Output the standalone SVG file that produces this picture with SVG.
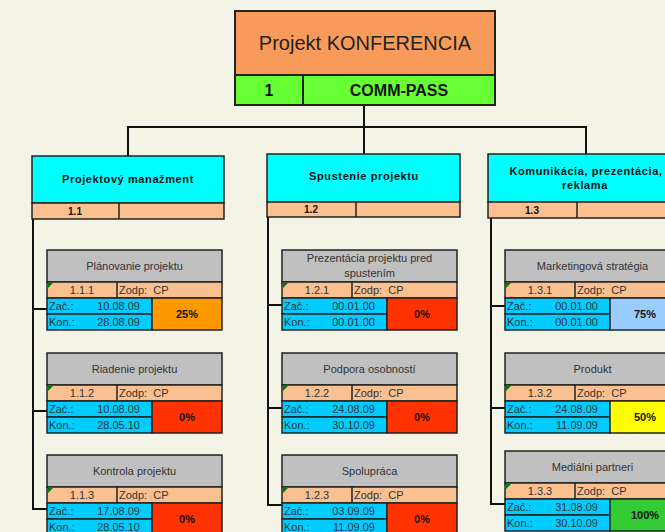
<svg xmlns="http://www.w3.org/2000/svg" width="665" height="532" viewBox="0 0 665 532">
<style>
.bg{fill:#F4F4E6}
.bx{stroke:#222;stroke-width:1.5}
.or{fill:#F89B5A}.gr{fill:#66FF33}.cy{fill:#00FFFF}.pe{fill:#FAC08F}.gy{fill:#C0C0C0}.bl{fill:#00CCFF}
.red{fill:#FF3300}.org{fill:#FF9900}.lbl{fill:#99CCFF}.yel{fill:#FFFF00}.grn{fill:#33CC33}
.cn{fill:none;stroke:#111;stroke-width:2}
text{font-family:"Liberation Sans",Arial,sans-serif;fill:#333}
.t{font-size:11px}
.c{text-anchor:middle}
.e{text-anchor:end}
.b{font-weight:bold;fill:#111}
.l1{font-size:11px;font-weight:bold;fill:#111;letter-spacing:0.6px;text-anchor:middle}
.tri{fill:#008000}
</style>
<rect class="bg" x="0" y="0" width="665" height="532"/>
<g id="connectors">
<path class="cn" d="M364,105V127M127,127H587M128,127V156M364,127V154M586,127V154"/>
<path class="cn" d="M33,219V509H47M33,309H47M33,411H47"/>
<path class="cn" d="M268,217V505H282M268,305H282M268,408H282"/>
<path class="cn" d="M491,218V504H505M491,306H505M491,408H505"/>
</g>
<g id="root">
<rect class="or bx" x="235" y="11" width="260" height="64" style="stroke-width:2"/>
<rect class="gr bx" x="235" y="75" width="260" height="30" style="stroke-width:2"/>
<line class="bx" x1="303" y1="75" x2="303" y2="105" style="stroke-width:2"/>
<text x="365" y="50" class="c" style="font-size:20px;fill:#222">Projekt KONFERENCIA</text>
<text x="269" y="96" class="c b" style="font-size:16px">1</text>
<text x="399" y="96" class="c b" style="font-size:16px">COMM-PASS</text>
</g>
<g id="n1_1">
<rect class="cy bx" x="32" y="156" width="192" height="47"/>
<rect class="pe bx" x="32" y="203" width="192" height="16"/>
<line class="bx" x1="119" y1="203" x2="119" y2="219"/>
<text x="128" y="183" class="l1">Projektový manažment</text>
<text x="75" y="215" class="c b" style="font-size:10px">1.1</text>
</g>
<g id="n1_2">
<rect class="cy bx" x="267" y="154" width="193" height="48"/>
<rect class="pe bx" x="267" y="202" width="193" height="15"/>
<line class="bx" x1="356" y1="202" x2="356" y2="217"/>
<text x="364" y="180" class="l1">Spustenie projektu</text>
<text x="311" y="213" class="c b" style="font-size:10px">1.2</text>
</g>
<g id="n1_3">
<rect class="cy bx" x="488" y="154" width="193" height="48"/>
<rect class="pe bx" x="488" y="202" width="193" height="16"/>
<line class="bx" x1="577" y1="202" x2="577" y2="218"/>
<text x="586" y="175" class="l1">Komunikácia, prezentácia,</text>
<text x="585" y="189" class="l1">reklama</text>
<text x="532" y="214" class="c b" style="font-size:10px">1.3</text>
</g>
<defs>
<g id="frame">
<rect class="gy bx" x="0" y="0" width="175" height="32"/>
<rect class="pe bx" x="0" y="32" width="175" height="16"/>
<line class="bx" x1="70" y1="32" x2="70" y2="48"/>
<path class="tri" d="M1,33H6L1,38Z"/>
<rect class="bl bx" x="0" y="48" width="105" height="16"/>
<rect class="bl bx" x="0" y="64" width="105" height="16"/>
</g>
</defs>
<g id="n1_1_1" transform="translate(47,250)">
<use href="#frame"/>
<rect class="org bx" x="105" y="48" width="70" height="32"/>
<text x="87.5" y="20" class="t c">Plánovanie projektu</text>
<text x="35" y="44" class="t c">1.1.1</text><text x="72" y="44" class="t" xml:space="preserve">Zodp:  CP</text>
<text x="2" y="60" class="t">Zač.:</text><text x="93" y="60" class="t e">10.08.09</text>
<text x="2" y="76" class="t">Kon.:</text><text x="93" y="76" class="t e">28.08.09</text>
<text x="140" y="68" class="t c b">25%</text>
</g>
<g id="n1_1_2" transform="translate(47,353)">
<use href="#frame"/>
<rect class="red bx" x="105" y="48" width="70" height="32"/>
<text x="87.5" y="20" class="t c">Riadenie projektu</text>
<text x="35" y="44" class="t c">1.1.2</text><text x="72" y="44" class="t" xml:space="preserve">Zodp:  CP</text>
<text x="2" y="60" class="t">Zač.:</text><text x="93" y="60" class="t e">10.08.09</text>
<text x="2" y="76" class="t">Kon.:</text><text x="93" y="76" class="t e">28.05.10</text>
<text x="140" y="68" class="t c b">0%</text>
</g>
<g id="n1_1_3" transform="translate(47,455)">
<use href="#frame"/>
<rect class="red bx" x="105" y="48" width="70" height="32"/>
<text x="87.5" y="20" class="t c">Kontrola projektu</text>
<text x="35" y="44" class="t c">1.1.3</text><text x="72" y="44" class="t" xml:space="preserve">Zodp:  CP</text>
<text x="2" y="60" class="t">Zač.:</text><text x="93" y="60" class="t e">17.08.09</text>
<text x="2" y="76" class="t">Kon.:</text><text x="93" y="76" class="t e">28.05.10</text>
<text x="140" y="68" class="t c b">0%</text>
</g>
<g id="n1_2_1" transform="translate(282,250)">
<use href="#frame"/>
<rect class="red bx" x="105" y="48" width="70" height="32"/>
<text x="87.5" y="12" class="t c">Prezentácia projektu pred</text>
<text x="87.5" y="27" class="t c">spustením</text>
<text x="35" y="44" class="t c">1.2.1</text><text x="72" y="44" class="t" xml:space="preserve">Zodp:  CP</text>
<text x="2" y="60" class="t">Zač.:</text><text x="93" y="60" class="t e">00.01.00</text>
<text x="2" y="76" class="t">Kon.:</text><text x="93" y="76" class="t e">00.01.00</text>
<text x="140" y="68" class="t c b">0%</text>
</g>
<g id="n1_2_2" transform="translate(282,353)">
<use href="#frame"/>
<rect class="red bx" x="105" y="48" width="70" height="32"/>
<text x="87.5" y="20" class="t c">Podpora osobností</text>
<text x="35" y="44" class="t c">1.2.2</text><text x="72" y="44" class="t" xml:space="preserve">Zodp:  CP</text>
<text x="2" y="60" class="t">Zač.:</text><text x="93" y="60" class="t e">24.08.09</text>
<text x="2" y="76" class="t">Kon.:</text><text x="93" y="76" class="t e">30.10.09</text>
<text x="140" y="68" class="t c b">0%</text>
</g>
<g id="n1_2_3" transform="translate(282,455)">
<use href="#frame"/>
<rect class="red bx" x="105" y="48" width="70" height="32"/>
<text x="87.5" y="20" class="t c">Spolupráca</text>
<text x="35" y="44" class="t c">1.2.3</text><text x="72" y="44" class="t" xml:space="preserve">Zodp:  CP</text>
<text x="2" y="60" class="t">Zač.:</text><text x="93" y="60" class="t e">03.09.09</text>
<text x="2" y="76" class="t">Kon.:</text><text x="93" y="76" class="t e">11.09.09</text>
<text x="140" y="68" class="t c b">0%</text>
</g>
<g id="n1_3_1" transform="translate(505,250)">
<use href="#frame"/>
<rect class="lbl bx" x="105" y="48" width="70" height="32"/>
<text x="87.5" y="20" class="t c">Marketingová stratégia</text>
<text x="35" y="44" class="t c">1.3.1</text><text x="72" y="44" class="t" xml:space="preserve">Zodp:  CP</text>
<text x="2" y="60" class="t">Zač.:</text><text x="93" y="60" class="t e">00.01.00</text>
<text x="2" y="76" class="t">Kon.:</text><text x="93" y="76" class="t e">00.01.00</text>
<text x="140" y="68" class="t c b">75%</text>
</g>
<g id="n1_3_2" transform="translate(505,353)">
<use href="#frame"/>
<rect class="yel bx" x="105" y="48" width="70" height="32"/>
<text x="87.5" y="20" class="t c">Produkt</text>
<text x="35" y="44" class="t c">1.3.2</text><text x="72" y="44" class="t" xml:space="preserve">Zodp:  CP</text>
<text x="2" y="60" class="t">Zač.:</text><text x="93" y="60" class="t e">24.08.09</text>
<text x="2" y="76" class="t">Kon.:</text><text x="93" y="76" class="t e">11.09.09</text>
<text x="140" y="68" class="t c b">50%</text>
</g>
<g id="n1_3_3" transform="translate(505,451)">
<use href="#frame"/>
<rect class="grn bx" x="105" y="48" width="70" height="32"/>
<text x="87.5" y="20" class="t c">Mediálni partneri</text>
<text x="35" y="44" class="t c">1.3.3</text><text x="72" y="44" class="t" xml:space="preserve">Zodp:  CP</text>
<text x="2" y="60" class="t">Zač.:</text><text x="93" y="60" class="t e">31.08.09</text>
<text x="2" y="76" class="t">Kon.:</text><text x="93" y="76" class="t e">30.10.09</text>
<text x="140" y="68" class="t c b">100%</text>
</g>
</svg>
